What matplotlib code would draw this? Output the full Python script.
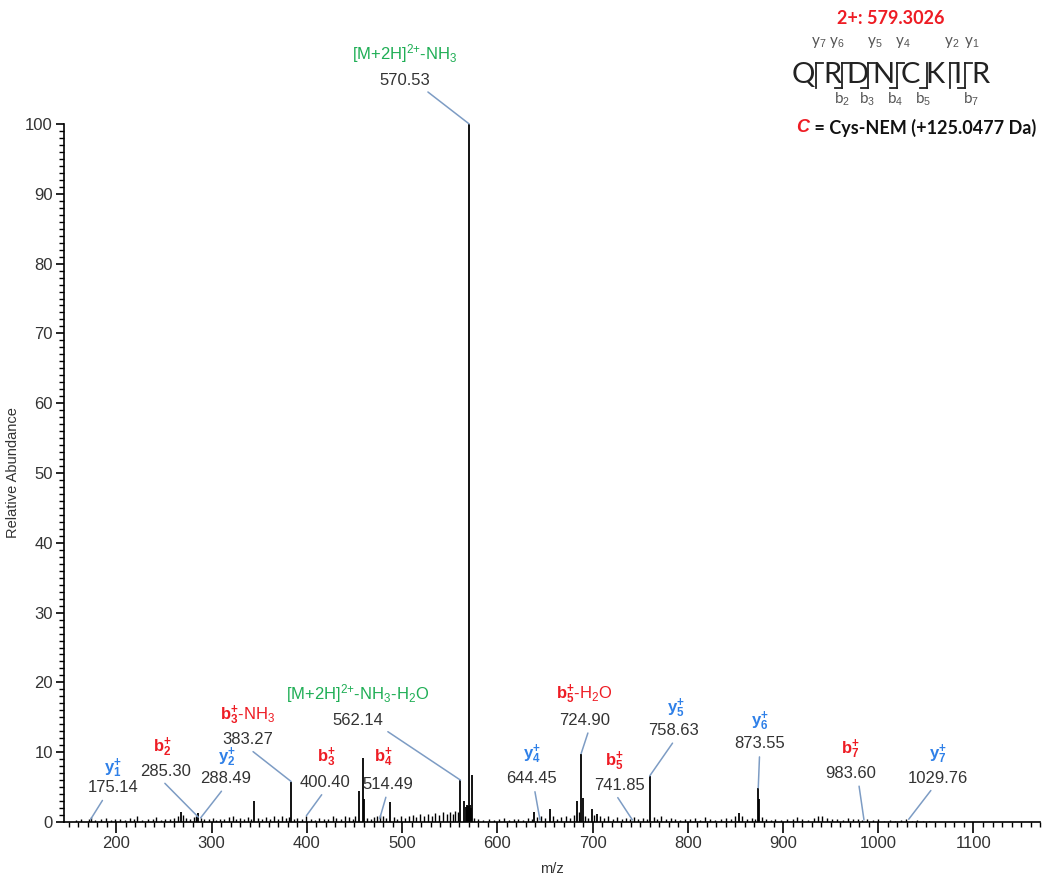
import matplotlib
matplotlib.use("Agg")
import matplotlib.pyplot as plt
from matplotlib.ticker import MultipleLocator

plt.rcParams['font.family'] = ['Liberation Sans', 'DejaVu Sans']
plt.rcParams['mathtext.fontset'] = 'custom'
plt.rcParams['mathtext.rm'] = 'Liberation Sans'
plt.rcParams['mathtext.bf'] = 'Liberation Sans:bold'
plt.rcParams['mathtext.it'] = 'Liberation Sans:italic'

# --- spectrum: main peaks (m/z, relative abundance) ---
main_mz = [570.53, 573.4, 561.3, 564.7, 567.0, 568.2, 569.3, 571.8, 572.4,
           688.0, 689.5, 684.0, 760.0, 874.0, 875.0,
           458.5, 454.3, 460.0, 383.5, 345.0, 268.0, 286.0, 487.0,
           655.0, 639.0, 699.6, 705.0, 854.0]
main_int = [100.0, 6.8, 6.0, 3.0, 2.2, 2.4, 2.3, 2.5, 2.0,
            9.8, 3.4, 3.0, 6.6, 4.9, 3.3,
            9.1, 4.4, 3.3, 5.8, 3.0, 1.5, 1.3, 2.8,
            1.9, 1.4, 1.8, 1.2, 1.3]

# --- baseline noise peaks ---
noise = [(158, 0.3), (163, 0.5), (171, 0.4), (173, 0.7), (178, 0.3), (184, 0.5),
         (189, 0.6), (194, 0.3), (199, 0.4), (204, 0.5), (209, 0.3), (214, 0.6),
         (219, 0.4), (222, 0.8), (227, 0.3), (233, 0.5), (238, 0.4), (242, 0.7),
         (247, 0.3), (251, 0.5), (256, 0.4), (261, 0.6), (265, 0.8), (270, 1.0),
         (273, 0.6), (277, 0.4), (281, 0.7), (284, 0.9), (289, 0.6), (292, 0.5),
         (297, 0.4), (301, 0.6), (305, 0.3), (309, 0.5), (313, 0.4), (318, 0.7),
         (322, 0.8), (326, 0.4), (330, 0.6), (334, 0.5), (338, 0.7), (341, 0.4),
         (349, 0.6), (353, 0.5), (357, 0.7), (361, 0.4), (366, 0.8), (370, 0.5),
         (374, 0.9), (378, 0.6), (381, 0.7), (386, 0.5), (390, 0.6), (395, 0.4),
         (399, 0.9), (404, 0.5), (409, 0.3), (413, 0.6), (418, 0.4), (422, 0.5),
         (427, 0.8), (431, 0.6), (436, 0.4), (440, 0.9), (444, 0.7), (448, 0.5),
         (451, 0.8), (463, 0.6), (467, 0.5), (471, 0.7), (474, 0.9), (477, 1.0),
         (480, 0.8), (483, 0.6), (491, 0.7), (495, 0.5), (499, 0.9), (503, 0.6),
         (507, 0.8), (511, 1.0), (515, 0.7), (519, 1.1), (523, 0.8), (527, 1.2),
         (531, 0.9), (535, 1.3), (539, 1.0), (543, 1.4), (547, 1.1), (550, 1.5),
         (553, 1.2), (556, 1.6), (559, 1.4), (576, 0.6), (580, 0.4), (585, 0.3),
         (591, 0.5), (596, 0.3), (602, 0.4), (607, 0.6), (612, 0.3), (617, 0.5),
         (622, 0.4), (627, 0.3), (632, 0.6), (636, 0.5), (642, 0.7), (646, 0.9),
         (650, 0.6), (658, 0.8), (663, 0.5), (667, 0.7), (672, 0.9), (676, 0.6),
         (680, 1.0), (686, 1.4), (692, 0.8), (695, 0.6), (702, 1.0), (708, 0.8),
         (712, 0.6), (716, 0.9), (721, 0.5), (726, 0.7), (731, 0.4), (735, 0.6),
         (739, 0.5), (744, 0.7), (748, 0.4), (753, 0.6), (757, 0.5), (764, 0.7),
         (768, 0.5), (772, 0.8), (777, 0.4), (782, 0.6), (787, 0.5), (792, 0.3),
         (797, 0.5), (802, 0.4), (808, 0.6), (813, 0.3), (818, 0.7), (823, 0.4),
         (829, 0.3), (835, 0.5), (840, 0.6), (845, 0.4), (850, 0.9), (857, 0.8),
         (862, 0.5), (867, 0.6), (871, 0.4), (878, 0.7), (882, 0.5), (887, 0.3),
         (892, 0.4), (898, 0.3), (904, 0.5), (910, 0.4), (915, 0.7), (920, 0.5),
         (926, 0.3), (932, 0.6), (937, 0.9), (941, 0.8), (946, 0.6), (951, 0.4),
         (957, 0.5), (963, 0.3), (968, 0.6), (973, 0.4), (979, 0.5), (983, 0.3),
         (988, 0.4), (994, 0.3), (1000, 0.4), (1006, 0.2), (1012, 0.3), (1018, 0.2),
         (1024, 0.3), (1029, 0.4), (1035, 0.2), (1041, 0.3), (1047, 0.2), (1053, 0.2)]

# --- fragment annotations ---
ion_labels = [r'$\mathbf{y_1^{+}}$', r'$\mathbf{b_2^{+}}$', r'$\mathbf{y_2^{+}}$',
              r'$\mathbf{b_3^{+}}$-NH$_3$', r'$\mathbf{b_3^{+}}$', r'$\mathbf{b_4^{+}}$',
              r'[M+2H]$^{2{+}}$-NH$_3$-H$_2$O', r'[M+2H]$^{2{+}}$-NH$_3$',
              r'$\mathbf{y_4^{+}}$', r'$\mathbf{b_5^{+}}$-H$_2$O', r'$\mathbf{b_5^{+}}$',
              r'$\mathbf{y_5^{+}}$', r'$\mathbf{y_6^{+}}$', r'$\mathbf{b_7^{+}}$',
              r'$\mathbf{y_7^{+}}$']
ion_kinds = ['y', 'b', 'y', 'b', 'b', 'b', 'M', 'M', 'y', 'b', 'b', 'y', 'y', 'b', 'y']
ion_values = ['175.14', '285.30', '288.49', '383.27', '400.40', '514.49', '562.14',
              '570.53', '644.45', '724.90', '741.85', '758.63', '873.55', '983.60',
              '1029.76']
peak_mz = [173.0, 286.0, 288.5, 383.5, 399.5, 476.5, 561.3, 570.53, 644.8,
           688.0, 741.8, 760.0, 874.0, 985.0, 1032.0]
peak_int = [0.4, 0.7, 0.6, 5.8, 0.9, 0.5, 6.0, 100.0, 0.3, 9.8, 0.3, 6.6, 4.9,
            0.3, 0.4]
text_mz = [196.7, 251.3, 314.4, 337.5, 419.4, 484.6, 453.0, 502.4, 635.8,
           691.6, 728.3, 785.0, 875.5, 971.0, 1062.4]
text_int = [4.9, 7.3, 6.2, 11.8, 5.7, 5.4, 14.5, 106.3, 6.2, 14.6, 5.3, 13.1,
            11.2, 7.0, 6.3]
label_mz = [196.7, 248.2, 315.5, 337.5, 420.5, 480.4, 453.0, 502.4, 635.8,
            691.6, 723.0, 787.1, 875.5, 971.0, 1062.4]
label_int = [7.2, 10.2, 8.8, 14.8, 8.8, 8.8, 17.9, 109.6, 9.3, 17.8, 8.2, 15.8,
             13.9, 10.0, 9.2]
line_relx = [0.35, 0.4, 0.5, 0.5, 0.5, 0.5, 1.0, 0.85, 0.55, 0.6, 0.4, 0.55,
             0.5, 0.65, 0.45]

colors = {'b': '#ee1c24', 'y': '#2f80e8', 'M': '#1fae55'}
leader_color = '#7d9cc4'

fig = plt.figure(figsize=(10.53, 8.77), dpi=100)
ax = fig.add_axes([0.0608, 0.0627, 0.927, 0.7959])

# noise first, then the real peaks on top
ax.vlines([p[0] for p in noise], 0, [p[1] for p in noise], color='black', lw=1.0)
ax.vlines(main_mz, 0, main_int, color='black', lw=1.3)

for i in range(len(ion_values)):
    ax.annotate(ion_values[i], xy=(peak_mz[i], peak_int[i]),
                xytext=(text_mz[i], text_int[i]), textcoords='data',
                ha='center', va='center', fontsize=12, color='#333333',
                annotation_clip=False,
                arrowprops=dict(arrowstyle='-', color=leader_color, lw=1.1,
                                relpos=(line_relx[i], 0.0), shrinkA=2, shrinkB=0))
    # ion names sit a little higher so subscripts clear the numbers
    ax.text(label_mz[i], label_int[i] + 0.5, ion_labels[i], ha='center', va='center',
            fontsize=12, color=colors[ion_kinds[i]], clip_on=False)

ax.set_xlim(145, 1170)
ax.set_ylim(0, 100)
ax.spines['top'].set_visible(False)
ax.spines['right'].set_visible(False)
for s in ('left', 'bottom'):
    ax.spines[s].set_linewidth(1.2)

ax.xaxis.set_major_locator(MultipleLocator(100))
ax.xaxis.set_minor_locator(MultipleLocator(10))
ax.yaxis.set_major_locator(MultipleLocator(10))
ax.yaxis.set_minor_locator(MultipleLocator(1))
ax.tick_params(axis='x', which='major', length=8, width=1.2, pad=2, labelsize=12,
               labelcolor='#333333')
ax.tick_params(axis='x', which='minor', length=3.5, width=1.0)
ax.tick_params(axis='y', which='major', length=6, width=1.2, pad=2, labelsize=12,
               labelcolor='#333333')
ax.tick_params(axis='y', which='minor', length=3.5, width=1.0)

ax.set_xlabel('m/z', fontsize=10.5, color='#333333', labelpad=8)
ax.set_ylabel('Relative Abundance', fontsize=10.5, color='#333333', labelpad=4)

# --- peptide fragment map (top right) ---
W, H = 1053.0, 877.0


def fx(px):
    return px / W


def fy(py):
    return 1 - py / H


seq = ['Q', 'R', 'D', 'N', 'C', 'K', 'I', 'R']
seq_x = [803, 832, 857, 883, 910, 935, 957, 980]
gap_x = [816, 842, 868, 897, 927, 950, 965]
gap_top = [True, True, True, True, False, True, True]
gap_bot = [False, True, True, True, True, False, True]
y_ions = ['7', '6', '5', '4', '2', '1']
y_ion_x = [819, 837, 875, 903, 952, 972]
b_ions = ['2', '3', '4', '5', '7']
b_ion_x = [842, 867, 895, 923, 971]

head_font = ['Lato', 'DejaVu Sans']
fig.text(fx(891), fy(19), '2+: 579.3026', color='#ee1c24', fontsize=13,
         fontweight='bold', family=head_font, ha='center', va='center')
for ch, x in zip(seq, seq_x):
    fig.text(fx(x), fy(75), ch, fontsize=21, color='#222222', family=head_font,
             ha='center', va='center')
for x, top, bot in zip(gap_x, gap_top, gap_bot):
    fig.add_artist(plt.Line2D([fx(x), fx(x)], [fy(63), fy(88)],
                              color='#222222', lw=1.3))
    if top:
        fig.add_artist(plt.Line2D([fx(x), fx(x + 7)], [fy(63), fy(63)],
                                  color='#222222', lw=1.3))
    if bot:
        fig.add_artist(plt.Line2D([fx(x - 7), fx(x)], [fy(88), fy(88)],
                                  color='#222222', lw=1.3))
for n, x in zip(y_ions, y_ion_x):
    fig.text(fx(x), fy(43), 'y$_{%s}$' % n, fontsize=11, color='#555555',
             family=head_font, ha='center', va='center')
for n, x in zip(b_ions, b_ion_x):
    fig.text(fx(x), fy(99), 'b$_{%s}$' % n, fontsize=11, color='#555555',
             family=head_font, ha='center', va='center')
fig.text(fx(796), fy(128), 'C', color='#ee1c24', fontsize=13, fontweight='bold',
         fontstyle='italic', family=['Liberation Sans'], ha='left', va='center')
fig.text(fx(810), fy(128), ' = Cys-NEM (+125.0477 Da)', color='#111111',
         fontsize=13, fontweight='bold', family=head_font, ha='left', va='center')

fig.savefig('out.png', dpi=100)
